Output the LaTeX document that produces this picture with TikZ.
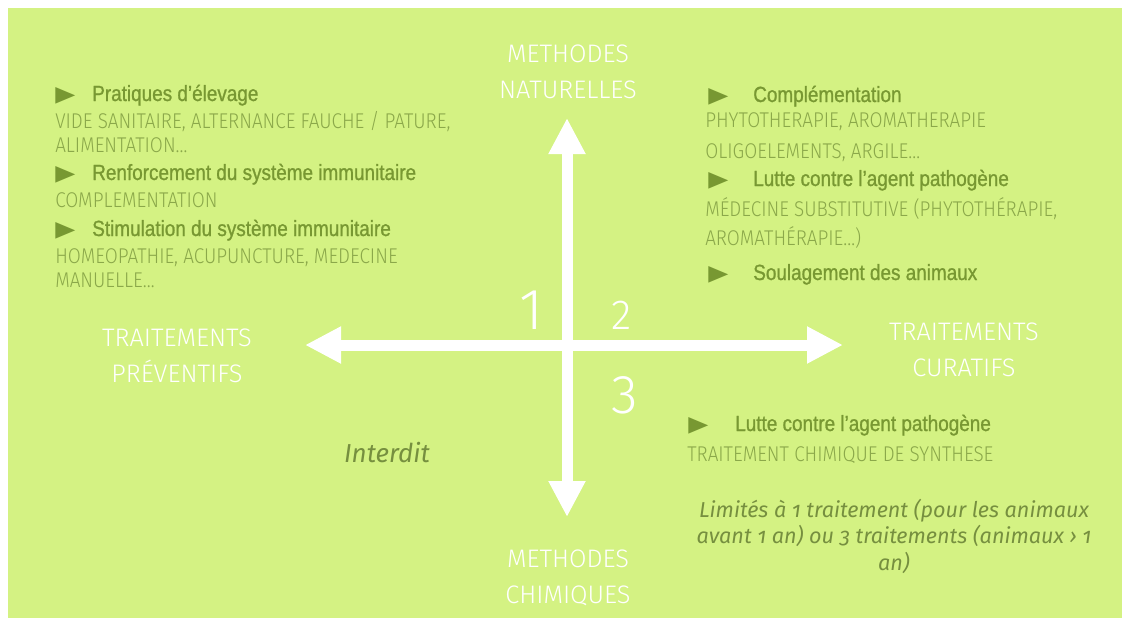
\documentclass[tikz,border=0pt]{standalone}
\usepackage{fontspec}
\setmainfont{Fira Sans}
\newfontfamily\titrefont[UprightFont={* Light}]{Fira Sans}
\newfontfamily\capfont[UprightFont={* Light},FakeStretch=0.885]{Fira Sans}
\newfontfamily\headfont[FakeStretch=0.86,FakeBold=1]{Liberation Sans}
\newfontfamily\italfont[Numbers=OldStyle]{Fira Sans}
\newfontfamily\symbfont{DejaVu Sans}
\usetikzlibrary{arrows.meta}

\definecolor{fond}{HTML}{D4F283}
\definecolor{vertfonce}{HTML}{789832}
\definecolor{vertclair}{HTML}{8BA84A}
\newcommand{\puce}[1]{\makebox[#1][l]{\resizebox{15pt}{10.5pt}{\symbfont ▶}}}

\tikzset{
  axe/.style={white, line width=8.25pt, {Triangle[length=27pt,width=26pt]}-{Triangle[length=27pt,width=26pt]}},
  titre/.style={text=white, font=\titrefont\fontsize{19}{20}\selectfont, anchor=base, inner sep=0pt},
  chiffre/.style={text=white, anchor=base, inner sep=0pt},
  entete/.style={text=vertfonce, font=\headfont\fontsize{16.5}{17}\selectfont, anchor=base west, inner sep=0pt},
  legende/.style={text=vertclair, font=\capfont\fontsize{16}{18}\selectfont, anchor=base west, inner sep=0pt},
  remarque/.style={text=vertclair!85!black, font=\italfont\itshape\fontsize{16.2}{18}\selectfont, anchor=base, inner sep=0pt}
}

\begin{document}
\begin{tikzpicture}[x=0.75pt, y=-0.75pt]
\useasboundingbox (0,0) rectangle (1122,618);
\fill[fond] (8,8) rectangle (1122,618);

% axes
\coordinate (gauche) at (305,345);
\coordinate (droite) at (843,345);
\coordinate (haut) at (567,118);
\coordinate (bas) at (567,517);
\draw[axe] (gauche) -- (droite);
\draw[axe] (bas) -- (haut);

% titres des axes
\node[titre] (nat1) at (568,62) {METHODES};
\node[titre] (nat2) at (568,98) {NATURELLES};
\node[titre] (chim1) at (568,567) {METHODES};
\node[titre] (chim2) at (568,603) {CHIMIQUES};
\node[titre] (prev1) at (177,346) {TRAITEMENTS};
\node[titre] (prev2) at (177,382) {PRÉVENTIFS};
\node[titre] (cur1) at (964,340) {TRAITEMENTS};
\node[titre] (cur2) at (964,376) {CURATIFS};

% quadrants
\node[chiffre, font=\titrefont\fontsize{43.5}{44}\selectfont] (q1) at (531,329) {1};
\node[chiffre, font=\titrefont\fontsize{31.5}{32}\selectfont] (q2) at (622,329) {2};
\node[chiffre, font=\titrefont\fontsize{41}{42}\selectfont] (q3) at (625,413) {3};

% quadrant 1
\node[entete] (prat) at (55,101) {\puce{27.75pt}Pratiques d’élevage};
\node[legende] (prat1) at (55,128) {VIDE SANITAIRE, ALTERNANCE FAUCHE / PATURE,};
\node[legende] (prat2) at (55,152) {ALIMENTATION…};
\node[entete] (renf) at (55,180) {\puce{27.75pt}Renforcement du système immunitaire};
\node[legende] (renf1) at (55,207) {COMPLEMENTATION};
\node[entete] (stim) at (55,236) {\puce{27.75pt}Stimulation du système immunitaire};
\node[legende] (stim1) at (55,263) {HOMEOPATHIE, ACUPUNCTURE, MEDECINE};
\node[legende] (stim2) at (55,287) {MANUELLE…};

% quadrant 2
\node[entete] (compl) at (708,102) {\puce{33.75pt}Complémentation};
\node[legende] (compl1) at (705,127) {PHYTOTHERAPIE, AROMATHERAPIE};
\node[legende] (compl2) at (705,158) {OLIGOELEMENTS, ARGILE…};
\node[entete] (lutte) at (708,186) {\puce{33.75pt}Lutte contre l’agent pathogène};
\node[legende] (lutte1) at (705,216) {MÉDECINE SUBSTITUTIVE (PHYTOTHÉRAPIE,};
\node[legende] (lutte2) at (705,245) {AROMATHÉRAPIE…)};
\node[entete] (soul) at (708,280) {\puce{33.75pt}Soulagement des animaux};

% quadrant 3
\node[entete] (chim) at (688,431) {\puce{35.25pt}Lutte contre l’agent pathogène};
\node[legende] (chim3) at (687,461) {TRAITEMENT CHIMIQUE DE SYNTHESE};
\node[remarque] (lim1) at (894,517) {Limités à 1 traitement (pour les animaux};
\node[remarque] (lim2) at (894,543) {avant 1 an) ou 3 traitements (animaux › 1};
\node[remarque] (lim3) at (894,570) {an)};

% quadrant 4
\node[remarque, font=\italfont\itshape\fontsize{19.5}{20}\selectfont] (interdit) at (387,462) {Interdit};
\end{tikzpicture}
\end{document}
